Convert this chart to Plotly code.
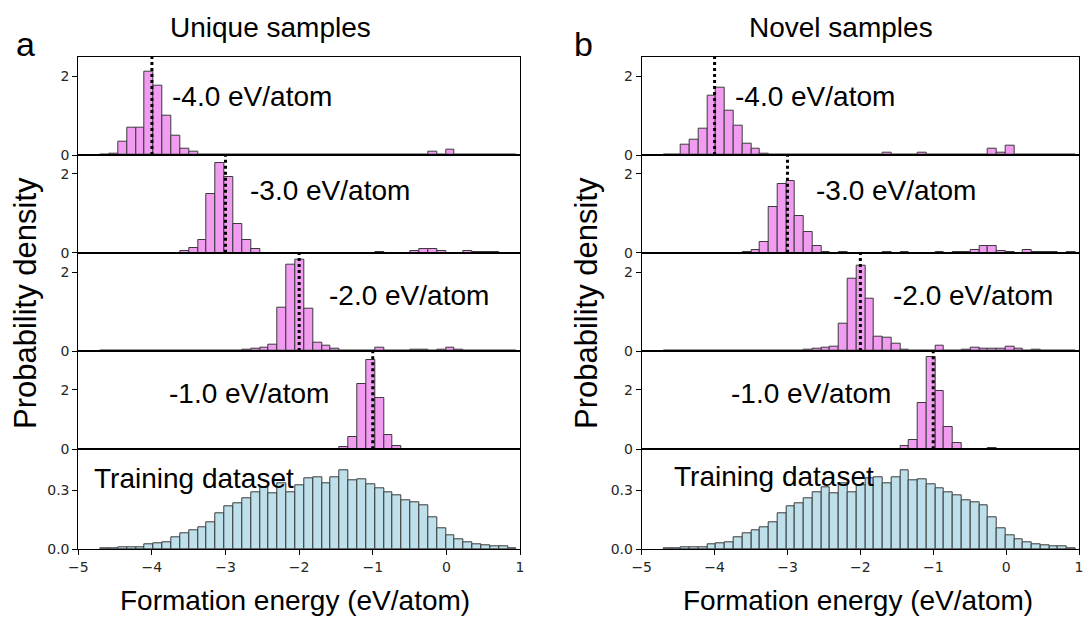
import numpy as np
import plotly.graph_objects as go

# ---------------- data ----------------
bin_lo, bin_hi, n_bins = -4.70, 0.955, 47
edges = np.linspace(bin_lo, bin_hi, n_bins + 1)
centers = (edges[:-1] + edges[1:]) / 2
bin_w = edges[1] - edges[0]

targets = [-4.0, -3.0, -2.0, -1.0]
target_labels = ["-4.0 eV/atom", "-3.0 eV/atom", "-2.0 eV/atom", "-1.0 eV/atom"]

unique_m4 = [0, 0.03, 0.34, 0.70, 0.70, 2.13, 1.75, 1.00, 0.48, 0.17,
             0.08, 0.02, 0.02, 0.02, 0.02, 0.02, 0, 0.02, 0, 0,
             0, 0, 0.02, 0, 0, 0.02, 0.02, 0.02, 0.02, 0.02,
             0.02, 0.02, 0, 0, 0, 0, 0.02, 0.08, 0.02, 0.14,
             0, 0, 0.02, 0, 0.02, 0.02, 0]
unique_m3 = [0, 0, 0, 0, 0, 0, 0, 0, 0, 0.04,
             0.12, 0.32, 1.49, 2.27, 1.93, 0.74, 0.32, 0.09, 0, 0,
             0, 0, 0, 0, 0, 0, 0, 0, 0, 0,
             0, 0.02, 0, 0, 0, 0.04, 0.09, 0.09, 0.04, 0,
             0, 0.04, 0.02, 0.02, 0.02, 0, 0]
unique_m2 = [0, 0, 0, 0, 0, 0, 0, 0, 0, 0,
             0, 0, 0, 0, 0, 0, 0.03, 0.05, 0.09, 0.16,
             1.11, 2.20, 2.31, 1.08, 0.21, 0.14, 0.05, 0, 0, 0,
             0, 0.09, 0, 0, 0, 0.04, 0.04, 0.02, 0.03, 0.08,
             0.04, 0, 0.02, 0, 0, 0, 0]
unique_m1 = [0, 0, 0, 0, 0, 0, 0, 0, 0, 0,
             0, 0, 0, 0, 0, 0, 0, 0, 0, 0,
             0, 0, 0, 0, 0, 0.02, 0, 0.09, 0.43, 2.21,
             3.01, 1.74, 0.48, 0.12, 0.02, 0.02, 0, 0.02, 0, 0,
             0, 0, 0, 0, 0, 0, 0]

novel_m4 = [0, 0, 0.25, 0.40, 0.68, 1.50, 1.72, 1.12, 0.74, 0.28,
            0.16, 0.04, 0.02, 0.02, 0.02, 0.02, 0, 0.02, 0, 0,
            0, 0, 0.02, 0, 0, 0.05, 0.02, 0.02, 0.02, 0.05,
            0.02, 0.02, 0, 0, 0, 0, 0.02, 0.16, 0.05, 0.24,
            0, 0, 0.02, 0, 0.02, 0.02, 0]
novel_m3 = [0, 0, 0, 0, 0, 0, 0, 0, 0, 0.03,
            0.08, 0.26, 1.15, 1.75, 1.83, 0.93, 0.53, 0.18, 0.02, 0,
            0.02, 0, 0, 0, 0, 0.02, 0, 0.02, 0, 0,
            0, 0.03, 0, 0.02, 0.02, 0.08, 0.18, 0.18, 0.04, 0.02,
            0, 0.06, 0.03, 0.03, 0.03, 0, 0.02]
novel_m2 = [0, 0, 0, 0, 0, 0, 0, 0, 0, 0,
            0, 0, 0, 0, 0, 0, 0.03, 0.05, 0.09, 0.12,
            0.69, 1.85, 2.17, 1.32, 0.37, 0.34, 0.18, 0.03, 0, 0.02,
            0, 0.14, 0, 0.02, 0.03, 0.09, 0.07, 0.05, 0.06, 0.12,
            0.07, 0, 0.03, 0, 0, 0, 0]
novel_m1 = [0, 0, 0, 0, 0, 0, 0, 0, 0, 0,
            0, 0, 0, 0, 0, 0, 0, 0, 0, 0,
            0, 0, 0, 0, 0, 0.01, 0, 0.12, 0.31, 1.55,
            3.10, 1.97, 0.74, 0.22, 0, 0.01, 0, 0.04, 0, 0,
            0, 0, 0, 0, 0, 0, 0]

training = [0.003, 0.003, 0.008, 0.008, 0.008, 0.027, 0.032, 0.037, 0.061, 0.081,
            0.094, 0.113, 0.135, 0.180, 0.218, 0.234, 0.260, 0.290, 0.315, 0.285,
            0.332, 0.290, 0.322, 0.361, 0.366, 0.332, 0.366, 0.401, 0.349, 0.354,
            0.331, 0.310, 0.290, 0.273, 0.246, 0.239, 0.221, 0.164, 0.105, 0.071,
            0.049, 0.037, 0.025, 0.019, 0.013, 0.013, 0.007]

panel_titles = ["Unique samples", "Novel samples"]
panel_letters = ["a", "b"]
columns = [[unique_m4, unique_m3, unique_m2, unique_m1],
           [novel_m4, novel_m3, novel_m2, novel_m1]]
y_tops = [2.5, 2.48, 2.5, 3.31, 0.506]
xticks = [-5, -4, -3, -2, -1, 0, 1]

# label positions (data coords) per column/row
label_pos = [
    [(-3.755, 1.48), (-2.69, 1.59), (-1.628, 1.41), (-3.80, 1.87), (-4.818, 0.359)],
    [(-3.753, 1.48), (-2.64, 1.59), (-1.574, 1.41), (-3.807, 1.87), (-4.59, 0.367)],
]

# ---------------- layout geometry (pixels) ----------------
W, H = 1085, 617
col_px = [(78.3, 520.0), (641.7, 1079.0)]
row_px = [56.7, 155.0, 252.7, 351.0, 449.3, 549.3]
title_cx = [270, 841]
xlabel_cx = [295, 858]
ylabel_cx = [25, 586]
letter_cx = [25, 583]

PINK = "#F19BF1"
BLUE = "#BDE0EB"
EDGE = "#3a3a3a"
TXT = "Liberation Sans, Arial, sans-serif"
TICKF = dict(family="DejaVu Sans", size=14, color="#262626")

fig = go.Figure()
layout = dict(
    width=W, height=H,
    margin=dict(l=0, r=0, t=0, b=0, pad=0, autoexpand=False),
    paper_bgcolor="white", plot_bgcolor="white", showlegend=False,
    bargap=0,
)
shapes, annotations = [], []

for c in range(2):
    for r in range(5):
        n = c * 5 + r + 1
        xs = "x" if n == 1 else f"x{n}"
        ys = "y" if n == 1 else f"y{n}"
        xa = "xaxis" if n == 1 else f"xaxis{n}"
        ya = "yaxis" if n == 1 else f"yaxis{n}"
        if r < 4:
            vals = columns[c][r]
            color = PINK
        else:
            vals = training
            color = BLUE
        fig.add_trace(go.Bar(
            x=centers, y=vals, width=[bin_w] * n_bins,
            marker=dict(color=color, line=dict(color=EDGE, width=1)),
            xaxis=xs, yaxis=ys, hoverinfo="skip"))
        bottom = r == 4
        layout[xa] = dict(
            domain=[col_px[c][0] / W, col_px[c][1] / W], anchor=ys,
            range=[-5, 1], showline=True, mirror=True, linecolor="black",
            linewidth=1, showgrid=False, zeroline=False, automargin=False,
            ticklabeloverflow="allow",
            tickvals=xticks if bottom else [],
            ticktext=[("\u2212" + str(-t)) if t < 0 else str(t) for t in xticks] if bottom else [],
            ticks="outside" if bottom else "", ticklen=5, tickcolor="black",
            showticklabels=bottom, tickfont=TICKF)
        if bottom:
            ytv, ytt = [0, 0.3], ["0.0", "0.3"]
        else:
            ytv, ytt = [0, 2], ["0", "2"]
        layout[ya] = dict(
            domain=[1 - row_px[r + 1] / H, 1 - row_px[r] / H], anchor=xs,
            range=[0, y_tops[r]], showline=True, mirror=True, linecolor="black",
            linewidth=1, showgrid=False, zeroline=False, automargin=False,
            ticklabeloverflow="allow",
            tickvals=ytv, ticktext=ytt, ticks="outside", ticklen=5,
            tickcolor="black", tickfont=TICKF)
        if r < 4:
            shapes.append(dict(type="line", xref=xs, yref=f"{ys} domain",
                               x0=targets[r], x1=targets[r], y0=0, y1=1,
                               line=dict(color="black", width=3, dash="dot")))
            text = target_labels[r]
        else:
            text = "Training dataset"
        lx, ly = label_pos[c][r]
        annotations.append(dict(text=text, x=lx, y=ly, xref=xs, yref=ys,
                                xanchor="left", yanchor="middle", showarrow=False,
                                font=dict(family=TXT, size=28, color="black")))

    annotations.append(dict(text=panel_titles[c], x=title_cx[c] / W, y=1 - 28 / H,
                            xref="paper", yref="paper", xanchor="center", yanchor="middle",
                            showarrow=False, font=dict(family=TXT, size=28, color="black")))
    annotations.append(dict(text=panel_letters[c], x=letter_cx[c] / W, y=1 - 44 / H,
                            xref="paper", yref="paper", xanchor="center", yanchor="middle",
                            showarrow=False, font=dict(family=TXT, size=34, color="black")))
    annotations.append(dict(text="Formation energy (eV/atom)", x=xlabel_cx[c] / W, y=1 - 600 / H,
                            xref="paper", yref="paper", xanchor="center", yanchor="middle",
                            showarrow=False, font=dict(family=TXT, size=28, color="black")))
    annotations.append(dict(text="Probability density", x=ylabel_cx[c] / W, y=1 - 303 / H,
                            xref="paper", yref="paper", xanchor="center", yanchor="middle",
                            textangle=-90, showarrow=False,
                            font=dict(family=TXT, size=31, color="black")))

layout["shapes"] = shapes
layout["annotations"] = annotations
fig.update_layout(**layout)
fig.write_html("out.html")
